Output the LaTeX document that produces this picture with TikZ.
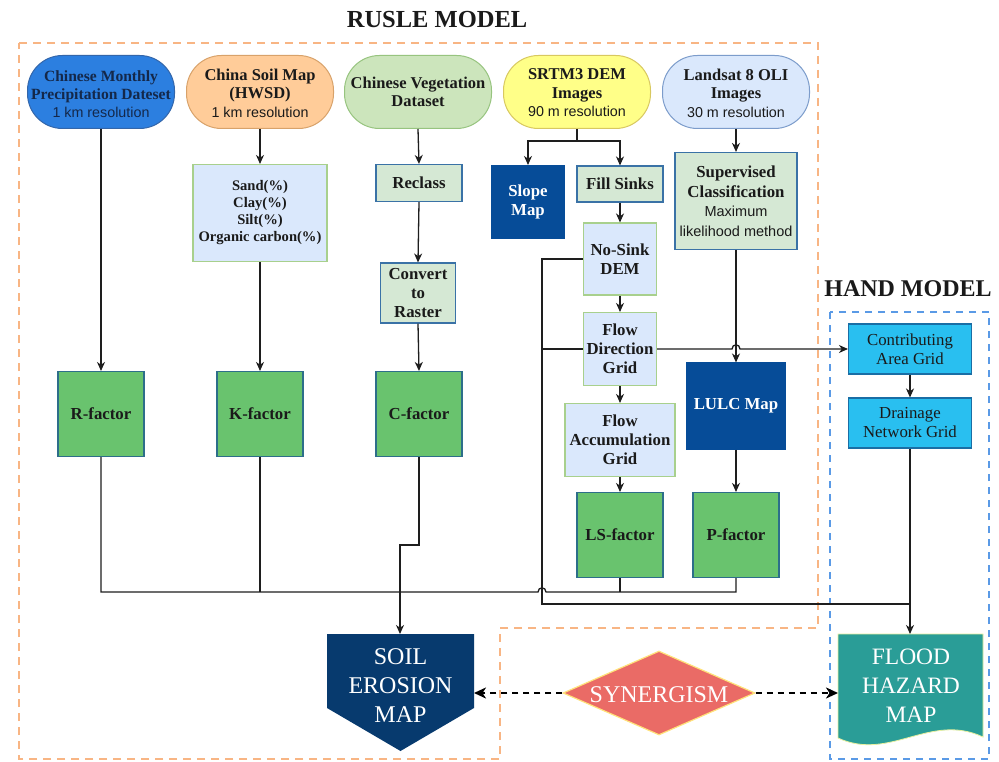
\documentclass[tikz,border=0pt]{standalone}
\usepackage{fontspec}
\setmainfont{Liberation Serif}
\newfontfamily\arialf{Liberation Sans}
\usetikzlibrary{arrows.meta,shapes.geometric}
\definecolor{precF}{HTML}{2C7FE0}\definecolor{precD}{HTML}{3366AA}
\definecolor{precT}{HTML}{14284A}
\definecolor{soilF}{HTML}{FFCC99}\definecolor{soilD}{HTML}{D8A26A}
\definecolor{vegF}{HTML}{CCE5BC}\definecolor{vegD}{HTML}{97C47F}
\definecolor{srtmF}{HTML}{FFFF88}\definecolor{srtmD}{HTML}{D8C860}
\definecolor{landF}{HTML}{DAE8FC}\definecolor{landD}{HTML}{7C9CCB}
\definecolor{lbF}{HTML}{DAE8FC}\definecolor{lbD}{HTML}{A8D08D}
\definecolor{lgF}{HTML}{D5E8D4}\definecolor{lgD}{HTML}{3A72A6}
\definecolor{dkF}{HTML}{064C98}
\definecolor{facF}{HTML}{69C36E}\definecolor{facD}{HTML}{2D6E8A}
\definecolor{cyF}{HTML}{29BFF0}\definecolor{cyD}{HTML}{1A6EA5}
\definecolor{erosF}{HTML}{073A6E}
\definecolor{synF}{HTML}{EA6B66}\definecolor{synD}{HTML}{FFE27A}
\definecolor{floodF}{HTML}{2A9D97}\definecolor{floodD}{HTML}{E8F0A0}
\definecolor{orD}{HTML}{F8B584}\definecolor{blD}{HTML}{5A9AE6}
\definecolor{lineC}{HTML}{1E1E1E}
\definecolor{txtC}{HTML}{1A1A1A}
\newcommand\fsz[2]{\fontsize{#1}{#2}\selectfont}
\begin{document}
\begin{tikzpicture}[x=1pt,y=-1pt,
  srcshape/.style={rectangle, rounded corners=35pt, draw, line width=1pt, inner sep=0pt, minimum width=147pt, minimum height=73pt},
  srctext/.style={align=center, inner sep=0pt, text=txtC, font=\bfseries\fsz{16.5}{18.5}},
  box/.style={draw, line width=1.1pt, inner sep=1pt, align=center, text=txtC, font=\bfseries\fsz{16.8}{19}},
  lbbox/.style={box, fill=lbF, draw=lbD},
  lgbox/.style={box, fill=lgF, draw=lgD},
  dkbox/.style={box, fill=dkF, draw=dkF, text=white},
  facbox/.style={box, fill=facF, draw=facD, minimum width=86pt, minimum height=85pt},
  cybox/.style={box, fill=cyF, draw=cyD, font=\fsz{16.8}{19}, minimum width=123pt, minimum height=50pt},
  conn/.style={draw=lineC, line width=1.3pt},
  arr/.style={conn, -{Stealth[length=9pt,width=8pt,inset=2.8pt]}},
  dasharr/.style={draw=black, line width=2.2pt, dash pattern=on 6pt off 5pt, -{Stealth[length=12pt,width=11pt,inset=3.5pt]}},
  bigtext/.style={align=center, inner sep=0pt, text=white, font=\fsz{24}{29}},
  title/.style={inner sep=0pt, text=txtC, font=\bfseries\fsz{24.5}{28}}
]
\useasboundingbox (0,0) rectangle (999,762);
\fill[white] (0,0) rectangle (999,762);

% group frames
\draw[orD, line width=2pt, dash pattern=on 8pt off 6pt]
  (19,43) -- (818,43) -- (818,628) -- (500,628) -- (500,759) -- (19,759) -- cycle;
\draw[blD, line width=2pt, dash pattern=on 7pt off 6pt] (830,312) rectangle (989,759);
\node[title] (rusle) at (437,20) {RUSLE MODEL};
\node[title, font=\bfseries\fsz{24}{28}] (hand) at (908,289) {HAND MODEL};

% source shapes
\node[srcshape, fill=precF, draw=precD] (prec) at (101,92) {};
\node[srctext, text=precT, font=\bfseries\fsz{15.6}{18}] (prect) at (101,94) {Chinese Monthly\\Precipitation Dateset\\{\mdseries\arialf\fsz{14.3}{16}1 km resolution}};
\node[srcshape, fill=soilF, draw=soilD] (soilm) at (260,92) {};
\node[srctext] (soilmt) at (260,93) {China Soil Map\\(HWSD)\\{\mdseries\arialf\fsz{14.3}{16}1 km resolution}};
\node[srcshape, fill=vegF, draw=vegD] (veg) at (418,92) {};
\node[srctext] (vegt) at (418,92) {Chinese Vegetation\\Dataset};
\node[srcshape, fill=srtmF, draw=srtmD] (srtm) at (577,92) {};
\node[srctext] (srtmt) at (577,93) {SRTM3 DEM\\Images\\{\mdseries\arialf\fsz{14.3}{16}90 m resolution}};
\node[srcshape, fill=landF, draw=landD] (land) at (736,92) {};
\node[srctext] (landt) at (736,93) {Landsat 8 OLI\\Images\\{\mdseries\arialf\fsz{14.3}{16}30 m resolution}};

% intermediate boxes
\node[lbbox, font=\bfseries\fsz{14.6}{17}, minimum width=134pt, minimum height=97pt] (sand) at (260,213) {Sand(\%)\\Clay(\%)\\Silt(\%)\\Organic carbon(\%)};
\node[lgbox, minimum width=86pt, minimum height=37pt] (reclass) at (419,183) {Reclass};
\node[lgbox, minimum width=75pt, minimum height=60pt, font=\bfseries\fsz{16.8}{19.3}] (conv) at (418,293) {Convert\\to\\Raster};
\node[dkbox, minimum width=73pt, minimum height=73pt] (slope) at (528,202) {Slope\\Map};
\node[lgbox, minimum width=86pt, minimum height=36pt] (fill) at (620,184) {Fill Sinks};
\node[lgbox, minimum width=122pt, minimum height=97pt, font=\bfseries\fsz{16.8}{19.5}] (sup) at (736,201) {Supervised\\Classification\\{\mdseries\arialf\fsz{14.5}{17}Maximum}\\{\mdseries\arialf\fsz{14.5}{17}likelihood method}};
\node[lbbox, minimum width=73pt, minimum height=72pt] (nosink) at (620,259) {No-Sink\\DEM};
\node[lbbox, minimum width=73pt, minimum height=73pt] (fdir) at (620,349) {Flow\\Direction\\Grid};
\node[lbbox, minimum width=110pt, minimum height=73pt] (facc) at (620,440) {Flow\\Accumulation\\Grid};
\node[dkbox, minimum width=98pt, minimum height=86pt] (lulc) at (736,406) {LULC Map};
\node[cybox] (contrib) at (910,349) {Contributing\\Area Grid};
\node[cybox] (drain) at (910,423) {Drainage\\Network Grid};

% factors
\node[facbox] (rf) at (101,414) {R-factor};
\node[facbox] (kf) at (260,414) {K-factor};
\node[facbox] (cf) at (419,414) {C-factor};
\node[facbox] (lsf) at (620,535) {LS-factor};
\node[facbox] (pf) at (736,535) {P-factor};

% output maps
\fill[erosF] (327,634) -- (474,634) -- (474,708) -- (400.5,751) -- (327,708) -- cycle;
\node[bigtext] (soil) at (400.5,686) {SOIL\\EROSION\\MAP};
\coordinate (soiltop) at (400,634);
\coordinate (soileast) at (474,693);

\filldraw[fill=floodF, draw=floodD, line width=0.8pt] (838,634) -- (983,634) -- (983,737)
  .. controls (930,712) and (890,762) .. (838,738) -- cycle;
\node[bigtext, font=\fsz{23.5}{29}] (flood) at (911,686) {FLOOD\\HAZARD\\MAP};
\coordinate (floodtop) at (910,634);
\coordinate (floodwest) at (838,693);

\node[diamond, fill=synF, draw=synD, line width=1.2pt, inner sep=0pt, minimum width=192pt, minimum height=84pt] (syn) at (659,693) {};
\node[bigtext, font=\fsz{24}{28}] (synt) at (659,695) {SYNERGISM};

% connectors
\draw[arr] (prec.south) -- (rf.north);
\draw[arr] (soilm.south) -- (sand.north);
\draw[arr] (sand.south) -- (kf.north);
\draw[arr] (veg.south) -- (reclass.north);
\draw[arr] (reclass.south) -- (conv.north);
\draw[arr] (conv.south) -- (cf.north);
\coordinate (split) at (577,141);
\draw[conn] (srtm.south) -- (split);
\draw[arr] (split) -| (slope.north);
\draw[arr] (split) -| (fill.north);
\draw[arr] (fill.south) -- (nosink.north);
\draw[arr] (nosink.south) -- (fdir.north);
\draw[arr] (fdir.south) -- (facc.north);
\draw[arr] (facc.south) -- (lsf.north);
\draw[arr] (land.south) -- (sup.north);
\draw[arr] (sup.south) -- (lulc.north);
\draw[arr] (lulc.south) -- (pf.north);
% flow direction to contributing area with hop
\draw[arr] (fdir.east) -- (732,349) .. controls (732,343.5) and (740,343.5) .. (740,349) -- (contrib.west);
\draw[arr] (contrib.south) -- (drain.north);
% HAND links
\coordinate (vx) at (542,259);
\draw[conn] (nosink.west) -- (vx) -- (542,604) -- (910,604);
\draw[conn] (fdir.west) -- (542,349);
\draw[arr] (drain.south) -- (floodtop);
% factor merge
\draw[conn] (rf.south) -- (101,592) -- (538,592) .. controls (538,586.5) and (546,586.5) .. (546,592) -- (736,592) -- (pf.south);
\draw[conn] (kf.south) -- (260,592);
\draw[conn] (lsf.south) -- (620,592);
\draw[arr] (cf.south) -- (419,545) -- (400,545) -- (soiltop);
% synergism
\draw[dasharr] (syn.west) -- (soileast);
\draw[dasharr] (syn.east) -- (floodwest);
\end{tikzpicture}
\end{document}
